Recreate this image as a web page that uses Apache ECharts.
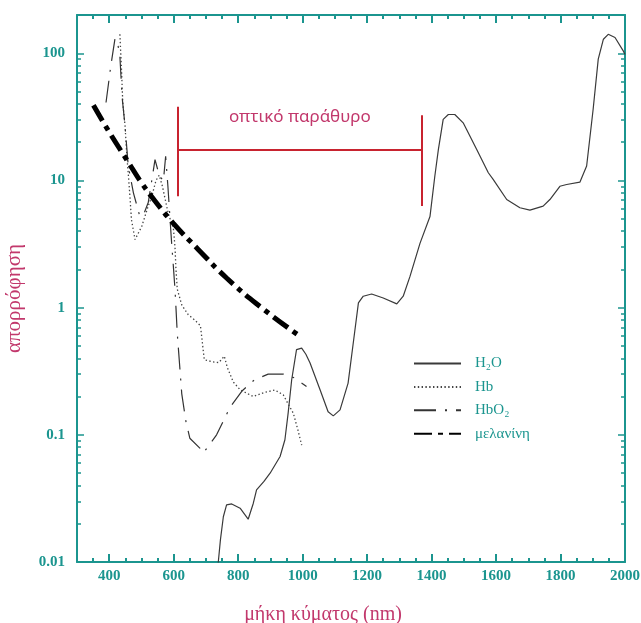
<!DOCTYPE html>
<html>
<head>
<meta charset="utf-8">
<script src="https://cdn.jsdelivr.net/npm/echarts@6/dist/echarts.min.js"></script>
<style>
  html, body { margin: 0; padding: 0; background: #fff; }
  #chart { width: 641px; height: 623px; }
</style>
</head>
<body>
<div id="chart"></div>
<script>
// tick values
const xMajorTicks = [400, 600, 800, 1000, 1200, 1400, 1600, 1800, 2000];
const xMinorTicks = [350, 450, 500, 550, 650, 700, 750, 850, 900, 950, 1050, 1100, 1150,
  1250, 1300, 1350, 1450, 1500, 1550, 1650, 1700, 1750, 1850, 1900, 1950];
const yMajorTicks = [0.01, 0.1, 1, 10, 100];
const yMajorLabels = ['0.01', '0.1', '1', '10', '100'];
const yMinorTicks = [0.02, 0.03, 0.04, 0.05, 0.06, 0.07, 0.08, 0.09,
  0.2, 0.3, 0.4, 0.5, 0.6, 0.7, 0.8, 0.9,
  2, 3, 4, 5, 6, 7, 8, 9,
  20, 30, 40, 50, 60, 70, 80, 90, 200];

// absorption curves [nm, absorption]
const waterData = [[738, 0.0098], [745, 0.015], [754, 0.0227], [764, 0.0281], [780, 0.0286],
  [806, 0.0265], [831, 0.0217], [847, 0.029], [857, 0.0369], [880, 0.043], [899, 0.0499],
  [930, 0.0675], [945, 0.0914], [955, 0.148], [966, 0.271], [981, 0.467], [997, 0.48],
  [1010, 0.43], [1023, 0.367], [1054, 0.226], [1079, 0.152], [1095, 0.141], [1116, 0.157],
  [1141, 0.255], [1157, 0.527], [1173, 1.09], [1188, 1.23], [1214, 1.28], [1250, 1.19],
  [1292, 1.07], [1312, 1.23], [1333, 1.76], [1364, 3.2], [1395, 5.2], [1410, 10.8],
  [1421, 17.5], [1436, 30.2], [1452, 33], [1472, 33], [1498, 28.4], [1540, 17.5],
  [1576, 11.5], [1591, 10.2], [1633, 7.08], [1674, 6.1], [1705, 5.84], [1746, 6.28],
  [1767, 7.08], [1798, 9.0], [1819, 9.3], [1860, 9.7], [1881, 13], [1901, 36], [1917, 90],
  [1933, 129], [1948, 141], [1969, 133], [1995, 104], [2000, 98]];
const hbData = [[433, 141], [438, 75], [442, 41], [449, 27], [454, 16.5], [462, 9], [469, 4.9],
  [480, 3.43], [501, 4.36], [521, 6.3], [532, 7.5], [545, 10], [555, 11], [565, 9],
  [583, 5.5], [599, 4.2], [604, 3.0], [607, 2.0], [611, 1.4], [625, 1.05], [645, 0.88],
  [665, 0.8], [683, 0.72], [690, 0.5], [695, 0.39], [720, 0.375], [740, 0.37], [757, 0.415],
  [766, 0.34], [785, 0.26], [806, 0.226], [847, 0.2], [880, 0.215], [914, 0.225],
  [940, 0.206], [955, 0.175], [971, 0.148], [985, 0.11], [997, 0.083]];
const hbo2Data = [[390, 41], [405, 80], [418, 131], [426, 120], [433, 95], [440, 45],
  [449, 26.8], [459, 13], [475, 8], [495, 5.2], [508, 5.5], [521, 6.7], [532, 10],
  [542, 14.6], [555, 11], [568, 9.9], [575, 15.5], [582, 9], [590, 4.4], [594, 3.1],
  [599, 2.1], [604, 1.39], [607, 1.0], [611, 0.63], [625, 0.21], [638, 0.127], [650, 0.094],
  [681, 0.0785], [692, 0.072], [733, 0.1], [775, 0.165], [811, 0.22], [850, 0.27],
  [893, 0.3], [940, 0.3], [975, 0.28], [1012, 0.24]];
const melaninData = [[351, 39], [400, 24], [454, 14.6], [500, 9.6], [542, 6.9], [599, 4.6],
  [676, 2.87], [764, 1.71], [868, 1.02], [990, 0.6]];

// optical window bracket [nm, absorption]
const windowLeft = [[613, 38], [613, 7.5]];
const windowBar = [[613, 17.5], [1370, 17.5]];
const windowRight = [[1370, 32.5], [1370, 6.3]];

const teal = '#1b958f';
const pink = '#c2386c';
const red = '#c8232f';

function xAxisDef(pos, ticks, len, labels, line) {
  return {
    type: 'value', position: pos, min: 300, max: 2000,
    axisLine: { show: line, onZero: false, lineStyle: { color: teal, width: 2 } },
    axisTick: { show: true, inside: true, length: len, customValues: ticks,
      lineStyle: { color: teal, width: 2 } },
    axisLabel: { show: labels, customValues: ticks, margin: 7, color: teal,
      fontFamily: 'Liberation Serif', fontWeight: 'bold', fontSize: 15,
      formatter: v => String(v) },
    splitLine: { show: false }
  };
}
function yAxisDef(pos, ticks, len, labels, line) {
  return {
    type: 'log', logBase: 10, position: pos, min: 0.01, max: 200,
    axisLine: { show: line, onZero: false, lineStyle: { color: teal, width: 2 } },
    axisTick: { show: true, inside: true, length: len, customValues: ticks,
      lineStyle: { color: teal, width: 1.5 } },
    axisLabel: { show: labels, customValues: ticks, margin: 12, color: teal,
      fontFamily: 'Liberation Serif', fontWeight: 'bold', fontSize: 15,
      formatter: v => {
        const i = yMajorTicks.findIndex(t => Math.abs(t - v) / t < 1e-6);
        return i >= 0 ? yMajorLabels[i] : '';
      } },
    splitLine: { show: false }
  };
}

const chart = echarts.init(document.getElementById('chart'));
const xMain = xAxisDef('bottom', xMajorTicks, 8, true, true);
xMain.name = 'μήκη κύματος (nm)';
xMain.nameLocation = 'middle';
xMain.nameGap = 43;
xMain.nameTextStyle = { color: pink, fontFamily: 'Liberation Serif', fontSize: 20, padding: [0, 56, 0, 0] };
const yMain = yAxisDef('left', yMajorTicks, 7, true, true);
yMain.name = 'απορρόφηση';
yMain.nameLocation = 'middle';
yMain.nameGap = 52;
yMain.nameTextStyle = { color: pink, fontFamily: 'Liberation Serif', fontSize: 21, padding: [0, 20, 0, 0] };

chart.setOption({
  animation: false,
  grid: { left: 77, right: 16, top: 15, bottom: 61, outerBoundsMode: 'none', containLabel: false },
  xAxis: [
    xMain,
    xAxisDef('bottom', xMinorTicks, 4, false, false),
    xAxisDef('top', xMajorTicks, 8, false, true),
    xAxisDef('top', xMinorTicks, 4, false, false)
  ],
  yAxis: [
    yMain,
    yAxisDef('left', yMinorTicks, 4, false, false),
    yAxisDef('right', yMajorTicks, 7, false, true),
    yAxisDef('right', yMinorTicks, 4, false, false)
  ],
  legend: {
    orient: 'vertical', left: 408, top: 351,
    itemWidth: 47, itemHeight: 12, itemGap: 8.4,
    itemStyle: { opacity: 0 },
    textStyle: { color: teal, fontFamily: 'Liberation Serif', fontSize: 15, padding: [0, 0, 0, 9] },
    data: ['H₂O', 'Hb', 'HbO₂', 'μελανίνη']
  },
  series: [
    {
      name: 'H₂O', type: 'line', data: waterData, showSymbol: false, symbol: 'none',
      itemStyle: { color: '#3a3a3a' },
      lineStyle: { color: '#3a3a3a', width: 1.2 },
      markLine: {
        silent: true, symbol: 'none',
        lineStyle: { color: red, width: 2, type: 'solid' },
        label: { show: false },
        data: [
          [{ coord: windowLeft[0] }, { coord: windowLeft[1] }],
          [{ coord: windowBar[0], label: { show: true, position: 'insideMiddleTop', distance: 24,
              formatter: 'οπτικό παράθυρο', color: pink, fontFamily: 'Noto Sans', fontSize: 17 } },
            { coord: windowBar[1] }],
          [{ coord: windowRight[0] }, { coord: windowRight[1] }]
        ]
      }
    },
    {
      name: 'Hb', type: 'line', data: hbData, showSymbol: false, symbol: 'none',
      itemStyle: { color: '#444' },
      lineStyle: { color: '#444', width: 1.3, type: [1.4, 2.4] }
    },
    {
      name: 'HbO₂', type: 'line', data: hbo2Data, showSymbol: false, symbol: 'none',
      itemStyle: { color: '#333' },
      lineStyle: { color: '#333', width: 1.2, type: [22, 9, 2, 9] }
    },
    {
      name: 'μελανίνη', type: 'line', data: melaninData, showSymbol: false, symbol: 'none',
      smooth: true,
      itemStyle: { color: '#000' },
      lineStyle: { color: '#000', width: 5, type: [18, 6, 5, 6] }
    }
  ]
});
</script>
</body>
</html>
